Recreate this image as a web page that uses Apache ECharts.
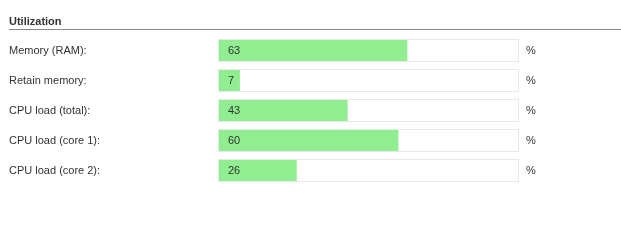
<!DOCTYPE html>
<html><head><meta charset="utf-8">
<script src="https://cdn.jsdelivr.net/npm/echarts@6/dist/echarts.min.js"></script>
<style>html,body{margin:0;padding:0;background:#fff}#c{width:621px;height:241px}</style>
</head><body><div id="c"></div>
<script>
const title = "Utilization";
const categories = ["Memory (RAM):", "Retain memory:", "CPU load (total):", "CPU load (core 1):", "CPU load (core 2):"];
const values = [63, 7, 43, 60, 26];
const maxValues = [100, 100, 100, 100, 100];
const unit = "%";

const chart = echarts.init(document.getElementById('c'), null, {renderer: 'canvas'});
const font = "'Liberation Sans', Arial, sans-serif";
const txt = '#333';
chart.setOption({
  animation: false,
  title: {text: title, left: 9, top: 16, padding: 0, textStyle: {fontFamily: font, fontSize: 11, fontWeight: 'bold', color: txt}},
  graphic: [{type: 'line', shape: {x1: 9, y1: 29.5, x2: 621, y2: 29.5}, style: {stroke: '#8a8a8a', lineWidth: 1}}],
  grid: [
    {left: 218, width: 301, top: 35.5, height: 150},
    {left: 219, width: 299, top: 35.5, height: 150}
  ],
  xAxis: [
    {gridIndex: 0, type: 'value', min: 0, max: 100, show: false},
    {gridIndex: 1, type: 'value', min: 0, max: 100, show: false}
  ],
  yAxis: [
    {gridIndex: 0, type: 'category', data: categories, inverse: true,
     axisLine: {show: false}, axisTick: {show: false}, splitLine: {show: false},
     axisLabel: {align: 'left', margin: 209, fontFamily: font, fontSize: 11, color: txt}},
    {gridIndex: 1, type: 'category', data: categories, inverse: true, show: false}
  ],
  series: [
    {type: 'bar', xAxisIndex: 0, yAxisIndex: 0, data: maxValues, barWidth: 23, z: 1,
     itemStyle: {color: '#e8e8e8'}, silent: true,
     label: {show: true, position: 'right', distance: 7, formatter: unit, fontFamily: font, fontSize: 11, color: txt}},
    {type: 'bar', xAxisIndex: 1, yAxisIndex: 1, data: values, barWidth: 21, z: 3,
     showBackground: true, backgroundStyle: {color: '#ffffff'},
     itemStyle: {color: '#90ee90'},
     label: {show: true, position: 'insideLeft', distance: 9, fontFamily: font, fontSize: 11, color: txt}}
  ]
});
</script></body></html>
